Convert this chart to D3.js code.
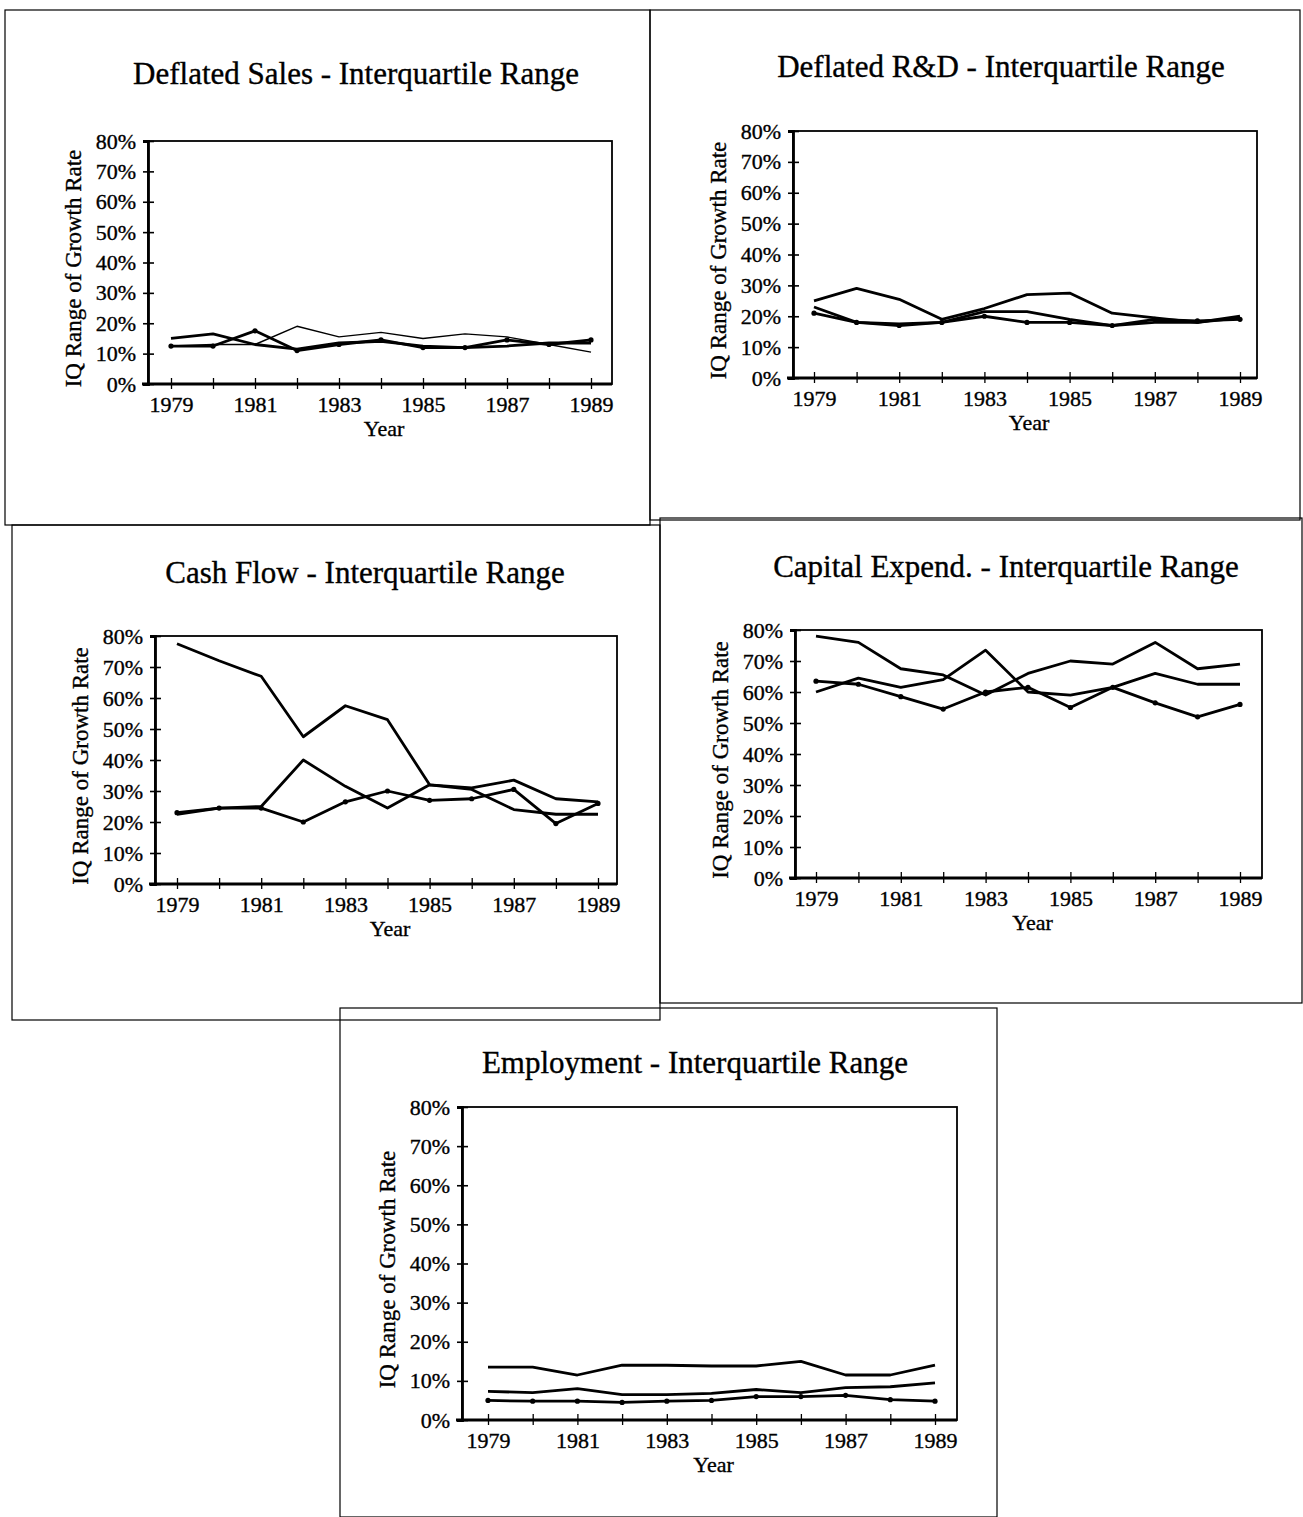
<!DOCTYPE html>
<html>
<head>
<meta charset="utf-8">
<script src="https://cdn.jsdelivr.net/npm/d3@7"></script>
<style>
  body { margin: 0; background: #fff; }
  text { font-family: "Liberation Serif", "Times New Roman", serif; fill: #000; stroke: #000; stroke-width: 0.35px; }
</style>
</head>
<body>
<script>
//data
var years = [1979, 1980, 1981, 1982, 1983, 1984, 1985, 1986, 1987, 1988, 1989];
var yearLabels = [1979, 1981, 1983, 1985, 1987, 1989];
var pctTicks = [0, 10, 20, 30, 40, 50, 60, 70, 80];

var titles = [
  'Deflated Sales - Interquartile Range',
  'Deflated R&D - Interquartile Range',
  'Cash Flow - Interquartile Range',
  'Capital Expend. - Interquartile Range',
  'Employment - Interquartile Range'
];

// IQ range of growth rate, percent (3 series per chart)
var salesA = [12.5, 13, 13, 19, 15.5, 17, 15, 16.5, 15.5, 13, 10.5];
var salesB = [15, 16.5, 13, 11.5, 13.5, 14, 12.5, 12, 12.5, 13.5, 13.5];
var salesC = [12.5, 12.5, 17.5, 11, 13, 14.5, 12, 12, 14.5, 13, 14.5];

var rdA = [25, 29, 25.5, 19, 22.5, 27, 27.5, 21, 19.5, 18, 20];
var rdB = [23, 18, 17.5, 18, 21.5, 21.5, 19, 17, 18, 18, 19.5];
var rdC = [21, 18, 17, 18, 20, 18, 18, 17, 19, 18.5, 19];

var cashA = [77.5, 72, 67, 47.5, 57.5, 53, 32, 31, 33.5, 27.5, 26.5];
var cashB = [22.5, 24.5, 25, 40, 31.5, 24.5, 32, 30.5, 24, 22.5, 22.5];
var cashC = [23, 24.5, 24.5, 20, 26.5, 30, 27, 27.5, 30.5, 19.5, 26];

var capA = [78, 76, 67.5, 65.5, 59, 66, 70, 69, 76, 67.5, 69];
var capB = [60, 64.5, 61.5, 64, 73.5, 60, 59, 61.5, 66, 62.5, 62.5];
var capC = [63.5, 62.5, 58.5, 54.5, 60, 61.5, 55, 61.5, 56.5, 52, 56];

var empA = [13.5, 13.5, 11.5, 14, 14, 13.8, 13.8, 15, 11.5, 11.5, 14];
var empB = [7.3, 7, 8, 6.5, 6.5, 6.8, 7.8, 7, 8.3, 8.5, 9.5];
var empC = [5, 4.8, 4.8, 4.5, 4.8, 5, 6, 6, 6.3, 5.2, 4.8];

var seriesByChart = [
  [salesA, salesB, salesC],
  [rdA, rdB, rdC],
  [cashA, cashB, cashC],
  [capA, capB, capC],
  [empA, empB, empC]
];

//layout: outer box, plot frame, first/last year x, title spot
var layout = [
  {box: [5, 10, 650, 525], plot: [148, 141, 612, 384], xr: [171, 591], tx: 356, ty: 84, thin: 0},
  {box: [650, 10, 1300, 520], plot: [793, 131, 1257, 378], xr: [814, 1240], tx: 1001, ty: 77, thin: -1},
  {box: [12, 525, 660, 1020], plot: [155, 636, 617, 884], xr: [177, 598], tx: 365, ty: 583, thin: -1},
  {box: [660, 518, 1302, 1003], plot: [795, 630, 1262, 878], xr: [816, 1240], tx: 1006, ty: 577, thin: -1},
  {box: [340, 1008, 997, 1517], plot: [462, 1107, 957, 1420], xr: [488, 935], tx: 695, ty: 1073, thin: -1}
];

var svg = d3.select('body').append('svg')
  .attr('width', 1303).attr('height', 1517);

svg.append('rect').attr('width', 1303).attr('height', 1517).attr('fill', '#fff');

layout.forEach(function(L, i) {
  drawChart(L, titles[i], seriesByChart[i]);
});

function drawChart(L, title, series) {
  var g = svg.append('g');
  var p = L.plot;

  // outer panel box
  g.append('rect')
    .attr('x', L.box[0]).attr('y', L.box[1])
    .attr('width', L.box[2] - L.box[0]).attr('height', L.box[3] - L.box[1])
    .attr('fill', 'none').attr('stroke', '#000').attr('stroke-width', 1.2);

  g.append('text')
    .attr('x', L.tx).attr('y', L.ty)
    .attr('text-anchor', 'middle')
    .style('font-size', '31px')
    .text(title);

  var x = d3.scaleLinear().domain([years[0], years[years.length - 1]]).range(L.xr);
  var y = d3.scaleLinear().domain([0, 80]).range([p[3], p[1]]);

  // plot frame
  g.append('rect')
    .attr('x', p[0]).attr('y', p[1])
    .attr('width', p[2] - p[0]).attr('height', p[3] - p[1])
    .attr('fill', 'none').attr('stroke', '#000').attr('stroke-width', 1.8);

  // y axis, ticks cross the line
  var yAxis = d3.axisLeft(y).tickValues(pctTicks)
    .tickFormat(function(d) { return d + '%'; })
    .tickSize(5).tickPadding(7);
  var ya = g.append('g').attr('transform', 'translate(' + p[0] + ',0)').call(yAxis);
  ya.select('.domain').attr('stroke-width', 2.8);
  ya.selectAll('.tick line').attr('x2', -5).attr('x1', 6).attr('stroke-width', 1.6);
  ya.selectAll('.tick text')
    .attr('fill', '#000')
    .style('font-family', '"Liberation Serif", serif')
    .style('font-size', '22px');

  // x axis: tick each year, label odd years
  var xAxis = d3.axisBottom(x).tickValues(years)
    .tickFormat(function(d) { return yearLabels.indexOf(d) >= 0 ? d : ''; })
    .tickSize(5).tickPadding(7);
  var xa = g.append('g').attr('transform', 'translate(0,' + p[3] + ')').call(xAxis);
  xa.select('.domain').attr('d', 'M' + (p[0] - 6) + ',0H' + p[2]).attr('stroke-width', 2.8);
  xa.selectAll('.tick line').attr('y1', -6).attr('y2', 5).attr('stroke-width', 1.3);
  xa.selectAll('.tick text')
    .attr('fill', '#000')
    .style('font-family', '"Liberation Serif", serif')
    .style('font-size', '22px');

  g.append('text')
    .attr('x', (p[0] + p[2]) / 2 + 4).attr('y', p[3] + 52)
    .attr('text-anchor', 'middle')
    .style('font-size', '22px')
    .text('Year');

  g.append('text')
    .attr('transform', 'translate(' + (p[0] - 67) + ',' + ((p[1] + p[3]) / 2 + 6) + ') rotate(-90)')
    .attr('text-anchor', 'middle')
    .style('font-size', '23px')
    .text('IQ Range of Growth Rate');

  var line = d3.line()
    .x(function(d, k) { return x(years[k]); })
    .y(function(d) { return y(d); });

  series.forEach(function(s, k) {
    g.append('path')
      .datum(s)
      .attr('d', line)
      .attr('fill', 'none')
      .attr('stroke', '#000')
      .attr('stroke-linejoin', 'round')
      .attr('stroke-width', k == L.thin ? 1.4 : 2.8);
  });

  // small dots on the last series
  g.selectAll('.dot')
    .data(series[series.length - 1])
    .enter().append('circle')
    .attr('cx', function(d, k) { return x(years[k]); })
    .attr('cy', function(d) { return y(d); })
    .attr('r', 2.6)
    .attr('fill', '#000');
}
</script>
</body>
</html>
